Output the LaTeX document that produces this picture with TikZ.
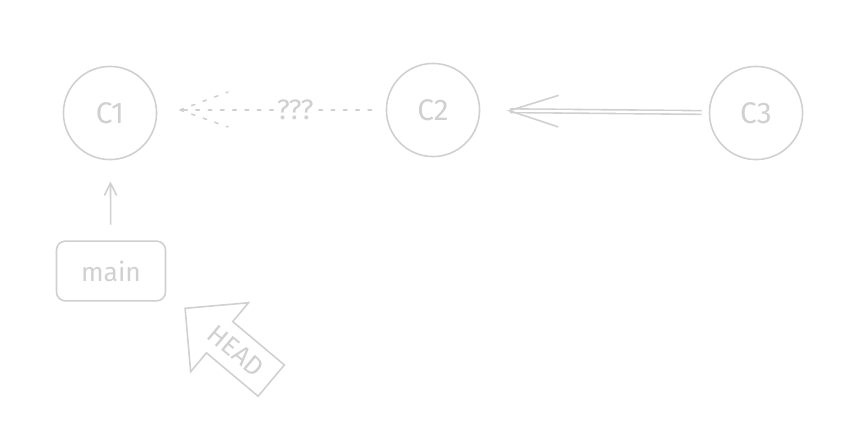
\documentclass[tikz,border=0pt]{standalone}
\usepackage{fontspec}
\setmainfont{Fira Sans}
\usetikzlibrary{arrows.meta,shapes.arrows}
\definecolor{sketch}{RGB}{208,208,208}
\begin{document}
\begin{tikzpicture}[
        x=0.02cm,
        y=-0.02cm,
        line width=0.9pt,
        draw=sketch,
        text=sketch,
        font=\fontsize{17}{20}\selectfont
    ]
    \tikzset{
        commit/.style = {circle, draw=sketch, minimum size=53pt, inner sep=0pt},
        branch/.style = {rectangle, rounded corners=5pt, draw=sketch, minimum width=62pt, minimum height=34pt, font=\fontsize{15}{18}\selectfont},
        headarrow/.style = {single arrow, draw=sketch, shape border rotate=180, rotate=-40, single arrow head extend=14pt, minimum height=64pt, inner ysep=6pt, inner xsep=2pt, font=\fontsize{15}{17}\selectfont},
        edgeb/.style = {sketch, double=white, double distance=1.2pt, -{Straight Barb[length=28pt,width=18pt,line width=0.9pt]}},
        edgeu/.style = {sketch, -{Straight Barb[length=7pt,width=7pt]}},
        edgeq/.style = {sketch, line cap=round, dash pattern=on 2pt off 5pt},
    }
    \useasboundingbox (0,0) rectangle (854,428);
    \node[commit] at (110,113) (c1) {C1};
    \node[commit] at (433,110) (c2) {C2};
    \node[commit] at (756,113) (c3) {C3};
    \node[branch] at (111,271) (main) {main};
    \node[headarrow] at (236,351) (head) {HEAD};
    \coordinate (q) at (180,110);
    %
    \draw[edgeq, shorten <=8pt] (c2) -- node[pos=0.44, fill=white, inner sep=1pt, font=\fontsize{16}{18}\selectfont] {???} (q);
    \draw[edgeq] (q) -- ++(48,-18) (q) -- ++(48,17);
    \draw[edgeb, shorten <=4pt, shorten >=15pt] (c3) -- (c2);
    %
    \draw[edgeu, shorten <=9pt, shorten >=12pt] (main) -- (c1);
\end{tikzpicture}
\end{document}
